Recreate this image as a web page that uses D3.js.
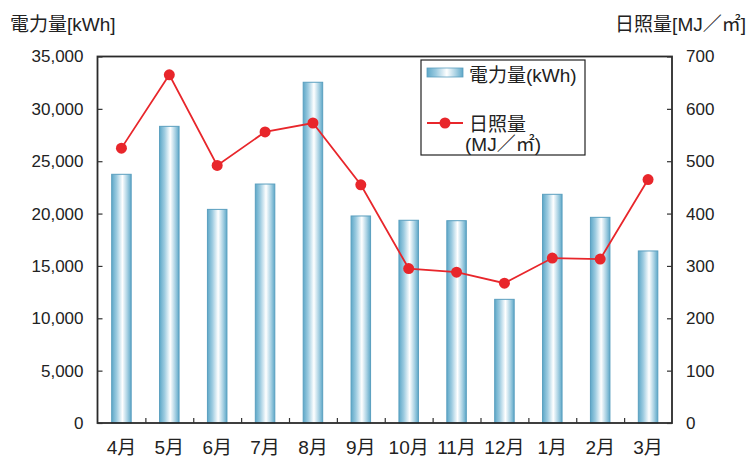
<!DOCTYPE html>
<html><head><meta charset="utf-8">
<script src="https://cdn.jsdelivr.net/npm/d3@7"></script>
<style>
body{margin:0;background:#fff;}
text{font-family:"Liberation Sans","Noto Sans CJK JP",sans-serif;fill:#222;}
</style></head>
<body>
<svg id="c" width="747" height="459"></svg>
<script>
const months = ["4月","5月","6月","7月","8月","9月","10月","11月","12月","1月","2月","3月"];
const power = [23750,28330,20400,22820,32540,19770,19360,19320,11810,21840,19640,16430];
const solar = [525,665,492,556,573,455,295,288,267,315,313,465];
const leftTicks = [0,5000,10000,15000,20000,25000,30000,35000];
const rightTicks = [0,100,200,300,400,500,600,700];

const svg = d3.select("#c");
const L=97.5, R=672, T=56.5, B=423;
const x = d3.scaleBand().domain(months).range([L,R]).paddingInner(0).paddingOuter(0);
const yL = d3.scaleLinear().domain([0,35000]).range([B,T]);
const yR = d3.scaleLinear().domain([0,700]).range([B,T]);

const defs = svg.append("defs");
const g = defs.append("linearGradient").attr("id","bg").attr("x1","0").attr("x2","1").attr("y1","0").attr("y2","0");
g.append("stop").attr("offset","0%").attr("stop-color","#5ea8c8");
g.append("stop").attr("offset","25%").attr("stop-color","#9ccbe0");
g.append("stop").attr("offset","55%").attr("stop-color","#ffffff");
g.append("stop").attr("offset","80%").attr("stop-color","#a8d1e3");
g.append("stop").attr("offset","100%").attr("stop-color","#5ea8c8");

const bw = 19.5;
svg.append("g").selectAll("rect").data(months).join("rect")
  .attr("x", (d)=>x(d)+x.bandwidth()/2-bw/2)
  .attr("y", (d,i)=>yL(power[i]))
  .attr("width", bw)
  .attr("height", (d,i)=>B-yL(power[i]))
  .attr("fill","url(#bg)")
  .attr("stroke","#5a9fbf").attr("stroke-width",1);

// frame
svg.append("rect").attr("x",L).attr("y",T).attr("width",R-L).attr("height",B-T)
  .attr("fill","none").attr("stroke","#2a2a2a").attr("stroke-width",1.8);

// left axis
const axL = svg.append("g").attr("transform",`translate(${L},0)`)
  .call(d3.axisLeft(yL).tickValues(leftTicks).tickSize(-5).tickPadding(14).tickFormat(d3.format(",")));
axL.select(".domain").remove();
axL.selectAll("line").attr("stroke","#333").attr("stroke-width",1.2);
axL.selectAll("text").style("font-size","17px").attr("fill","#222");

// right axis
const axR = svg.append("g").attr("transform",`translate(${R},0)`)
  .call(d3.axisRight(yR).tickValues(rightTicks).tickSize(-5).tickPadding(14));
axR.select(".domain").remove();
axR.selectAll("line").attr("stroke","#333").attr("stroke-width",1.2);
axR.selectAll("text").style("font-size","17px").attr("fill","#222");

// bottom axis ticks between categories
const xb = d3.scaleLinear().domain([0,12]).range([L,R]);
const axB = svg.append("g").attr("transform",`translate(0,${B})`)
  .call(d3.axisBottom(xb).tickValues(d3.range(1,12)).tickSize(-5).tickFormat(""));
axB.select(".domain").remove();
axB.selectAll("line").attr("stroke","#333").attr("stroke-width",1.2);
svg.append("g").selectAll("text").data(months).join("text")
  .attr("x",d=>x(d)+x.bandwidth()/2).attr("y",454)
  .attr("text-anchor","middle").style("font-size","19px").text(d=>d);

// line
const line = d3.line().x((d,i)=>x(months[i])+x.bandwidth()/2).y(d=>yR(d));
svg.append("path").datum(solar).attr("d",line).attr("fill","none")
  .attr("stroke","#e8262b").attr("stroke-width",1.8);
svg.append("g").selectAll("circle").data(solar).join("circle")
  .attr("cx",(d,i)=>x(months[i])+x.bandwidth()/2).attr("cy",d=>yR(d)).attr("r",5.5)
  .attr("fill","#e8262b");

// axis titles
svg.append("text").attr("x",10).attr("y",31).style("font-size","19px").text("電力量[kWh]");
svg.append("text").attr("x",746).attr("y",31).attr("text-anchor","end").style("font-size","19px").text("日照量[MJ／㎡]");

// legend
const lg = svg.append("g");
lg.append("rect").attr("x",421).attr("y",60).attr("width",164).attr("height",95)
  .attr("fill","#fff").attr("stroke","#222").attr("stroke-width",1.2);
lg.append("rect").attr("x",427).attr("y",68).attr("width",36).attr("height",9)
  .attr("fill","url(#bg)").attr("stroke","#5a9fbf").attr("stroke-width",0.8);
lg.append("text").attr("x",469).attr("y",82).style("font-size","19px").text("電力量(kWh)");
lg.append("line").attr("x1",427).attr("x2",463).attr("y1",123).attr("y2",123)
  .attr("stroke","#e8262b").attr("stroke-width",1.8);
lg.append("circle").attr("cx",445).attr("cy",123).attr("r",5.5).attr("fill","#e8262b");
lg.append("text").attr("x",469).attr("y",131).style("font-size","19px").text("日照量");
lg.append("text").attr("x",465).attr("y",151).style("font-size","19px").text("(MJ／㎡)");
</script>
</body></html>
